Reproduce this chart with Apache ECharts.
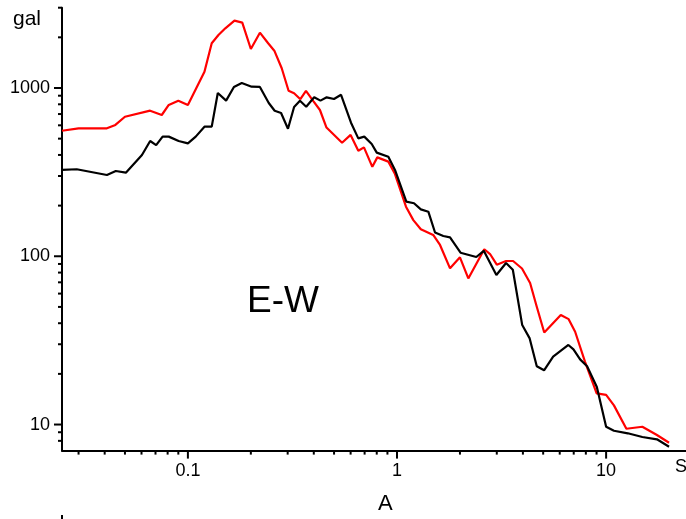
<!DOCTYPE html>
<html>
<head>
<meta charset="utf-8">
<script src="https://cdn.jsdelivr.net/npm/echarts@6/dist/echarts.min.js"></script>
<style>
  html, body { margin: 0; padding: 0; background: #fff; }
  #chart { width: 686px; height: 519px; }
</style>
</head>
<body>
<div id="chart"></div>
<script>
// Response spectra, E-W component (period in s, acceleration in gal)
const periodRed = [0.025,0.030,0.041,0.045,0.050,0.066,0.075,0.081,0.090,0.100,0.120,0.130,0.140,0.151,0.167,0.182,0.200,0.221,0.242,0.259,0.281,0.303,0.322,0.345,0.367,0.398,0.428,0.460,0.546,0.600,0.653,0.695,0.762,0.805,0.909,0.978,1.104,1.197,1.30,1.49,1.606,1.793,2.0,2.193,2.614,2.786,3.0,3.323,3.59,3.96,4.33,4.66,5.06,6.07,6.62,7.11,7.93,9.01,10.0,10.9,12.5,14.9,17.5,20.0];
const accelRed = [557,576,576,603,675,733,691,793,841,793,1250,1844,2065,2263,2512,2445,1705,2132,1844,1666,1310,963,930,858,960,835,740,582,473,526,424,444,340,387,365,308,197,164,144.6,133.8,116.7,84.8,98.6,73.8,110.1,103.1,89.1,93.7,93.7,84.6,69.3,50.1,35.2,44.8,42.3,35.6,23.6,15.3,15.0,13.0,9.44,9.7,8.66,7.79];

const periodBlack = [0.025,0.0294,0.041,0.0452,0.0505,0.0603,0.066,0.0705,0.0757,0.081,0.0903,0.100,0.109,0.120,0.130,0.139,0.1523,0.166,0.181,0.2017,0.221,0.2436,0.260,0.279,0.301,0.322,0.3435,0.368,0.4017,0.4305,0.461,0.4996,0.540,0.6026,0.653,0.6975,0.757,0.800,0.909,0.978,1.108,1.206,1.30,1.412,1.52,1.665,1.793,2.013,2.395,2.60,2.987,3.323,3.58,3.97,4.31,4.66,5.05,5.58,6.60,6.98,7.51,8.11,9.03,10.0,10.9,12.7,14.9,17.5,20.0];
const accelBlack = [326,329,304,321,314,400,484,458,514,514,484,469,514,589,589,934,841,1014,1071,1018,1014,814,732,710,573,771,839,774,880,841,880,860,911,622,502,514,465,413,390,326,211,206.5,190,184,138.4,132,129.6,105,99,107.7,77.4,91.2,83.2,39.0,32.5,22.2,21.0,25.3,29.7,28.0,24.4,22.2,16.7,9.7,9.18,8.87,8.43,8.17,7.38];

// Axis ranges and tick positions
const X_MIN = 0.025, X_MAX = 24.1;
const Y_MIN = 7, Y_MAX = 3000;
const xMajorTicks = [0.1, 1, 10];
const xMinorTicks = [0.03,0.04,0.05,0.06,0.07,0.08,0.09,0.2,0.3,0.4,0.5,0.6,0.7,0.8,0.9,2,3,4,5,6,7,8,9];
const yMajorTicks = [10, 100, 1000];
const yMinorTicks = [8,9,20,30,40,50,60,70,80,90,200,300,400,500,600,700,800,900,2000,3000];

const FONT = 'Liberation Sans, Arial, sans-serif';

function zip(a, b) { return a.map((v, i) => [v, b[i]]); }

function isDecade(v) {
  const l = Math.log10(v);
  return Math.abs(l - Math.round(l)) < 1e-6;
}

function xTickSeries(values, len) {
  return {
    type: 'custom', silent: true, clip: false, z: 5,
    data: values.map(v => [v, Y_MIN]),
    renderItem: (params, api) => {
      const p = api.coord([api.value(0), Y_MIN]);
      return { type: 'line', shape: { x1: p[0], y1: p[1], x2: p[0], y2: p[1] + len },
               style: { stroke: '#000', lineWidth: 2 } };
    }
  };
}
function yTickSeries(values, len) {
  return {
    type: 'custom', silent: true, clip: false, z: 5,
    data: values.map(v => [X_MIN, v]),
    renderItem: (params, api) => {
      const p = api.coord([X_MIN, api.value(1)]);
      return { type: 'line', shape: { x1: p[0] - len, y1: p[1], x2: p[0], y2: p[1] },
               style: { stroke: '#000', lineWidth: 2 } };
    }
  };
}

const chart = echarts.init(document.getElementById('chart'), null, { renderer: 'canvas' });
chart.setOption({
  animation: false,
  backgroundColor: '#fff',
  grid: { left: 62, right: 0, top: 7.7, bottom: 68.4 },
  xAxis: {
    type: 'log', logBase: 10, min: X_MIN, max: X_MAX,
    axisLine: { show: true, lineStyle: { color: '#000', width: 2 } },
    axisTick: { show: false },
    splitLine: { show: false },
    minorTick: { show: false },
    axisLabel: {
      show: true, margin: 11, color: '#000', fontSize: 18, fontFamily: FONT,
      showMinLabel: false, showMaxLabel: false,
      formatter: v => isDecade(v) ? String(+v.toPrecision(6)) : ''
    }
  },
  yAxis: {
    type: 'log', logBase: 10, min: Y_MIN, max: Y_MAX,
    axisLine: { show: true, lineStyle: { color: '#000', width: 2 } },
    axisTick: { show: false },
    splitLine: { show: false },
    minorTick: { show: false },
    axisLabel: {
      show: true, margin: 12, color: '#000', fontSize: 18, fontFamily: FONT,
      showMinLabel: false, showMaxLabel: false,
      formatter: v => isDecade(v) ? String(Math.round(v)) : ''
    }
  },
  series: [
    {
      name: 'red', type: 'line', data: zip(periodRed, accelRed),
      showSymbol: false, symbol: 'none', z: 3,
      lineStyle: { color: '#ff0000', width: 2.2 }
    },
    {
      name: 'black', type: 'line', data: zip(periodBlack, accelBlack),
      showSymbol: false, symbol: 'none', z: 4,
      lineStyle: { color: '#000', width: 2.2 }
    },
    xTickSeries(xMajorTicks, 8),
    xTickSeries(xMinorTicks, 4),
    yTickSeries(yMajorTicks, 8),
    yTickSeries(yMinorTicks, 4)
  ],
  graphic: [
    { type: 'text', left: 13, top: 9, style: { text: 'gal', font: '21px ' + FONT, fill: '#000' } },
    { type: 'text', left: 247, top: 283, style: { text: 'E-W', font: '37px ' + FONT, fill: '#000' } },
    { type: 'text', left: 378, top: 493, style: { text: 'A', font: '22px ' + FONT, fill: '#000' } },
    { type: 'text', left: 675, top: 458, style: { text: 'S', font: '18px ' + FONT, fill: '#000' } },
    { type: 'line', shape: { x1: 62, y1: 515, x2: 62, y2: 519 }, style: { stroke: '#000', lineWidth: 2 } }
  ]
});
</script>
</body>
</html>
